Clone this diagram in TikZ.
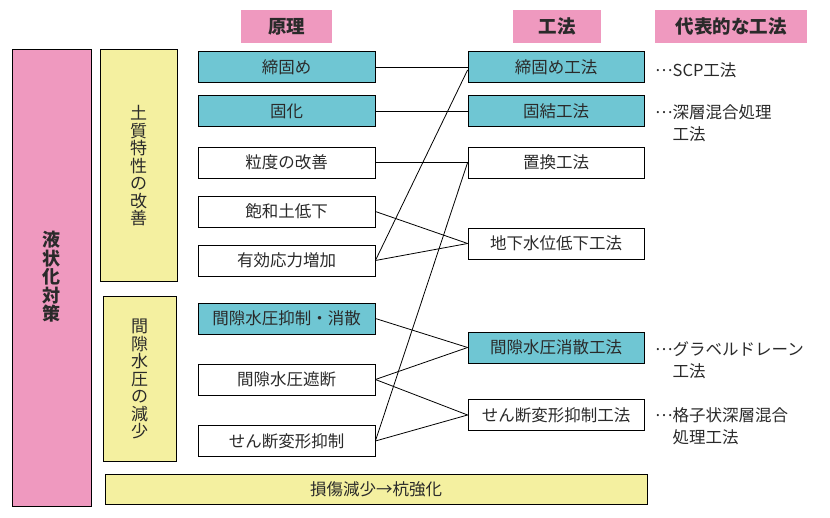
\documentclass[tikz,border=0pt]{standalone}
\usepackage{fontspec}
\setmainfont{Noto Sans CJK JP}
\definecolor{pinkc}{HTML}{EF99BF}
\definecolor{cyanc}{HTML}{6FC6D3}
\definecolor{yellc}{HTML}{F4F0A0}
\definecolor{txt}{HTML}{2A2A2A}
\newcommand\middots{\raisebox{0.3em}{…}}
\newlength\dotw
\begin{document}
\settowidth\dotw{\fontsize{16.5}{22}\selectfont …}
\begin{tikzpicture}[x=1pt,y=-1pt,
  box/.style={draw=black,line width=0.8pt,minimum width=177pt,minimum height=31pt,inner sep=0pt,text=txt,font=\fontsize{16.5}{18}\selectfont},
  cbox/.style={box,fill=cyanc},
  wbox/.style={box,fill=white},
  head/.style={fill=pinkc,inner sep=0pt,minimum height=33pt,text=txt,font=\fontsize{18.5}{20}\selectfont\bfseries},
  vtext/.style={align=center,text=txt,inner sep=0pt},
  note/.style={anchor=west,align=left,inner sep=0pt,text=txt,font=\fontsize{16.5}{22}\selectfont},
  link/.style={line width=0.8pt,black}]
\useasboundingbox (0,0) rectangle (830,518);
% headers
\node[head,minimum width=91pt] (h1) at (286.5,27) {原理};
\node[head,minimum width=88pt] (h2) at (557,26.5) {工法};
\node[head,minimum width=152pt] (h3) at (731,26.5) {代表的な工法};
% big left boxes
\draw[fill=pinkc,line width=0.8pt] (12,49) rectangle (91,506);
\node[vtext,font=\fontsize{18}{18.5}\selectfont\bfseries] (title) at (51.5,277) {液\\状\\化\\対\\策};
\draw[fill=yellc,line width=0.8pt] (100,49) rectangle (177,281);
\node[vtext,font=\fontsize{17}{17.5}\selectfont] (g1) at (138.5,166) {土\\質\\特\\性\\の\\改\\善};
\draw[fill=yellc,line width=0.8pt] (103,296) rectangle (176,461);
\node[vtext,font=\fontsize{17}{17.5}\selectfont] (g2) at (139.5,379) {間\\隙\\水\\圧\\の\\減\\少};
\node[draw=black,line width=0.8pt,fill=yellc,minimum width=542pt,minimum height=30pt,inner sep=0pt,text=txt,font=\fontsize{16.5}{18}\selectfont] (bot) at (376,489) {損傷減少→杭強化};
% principle boxes
\node[cbox] (p1) at (286.5,67) {締固め};
\node[cbox] (p2) at (286.5,111) {固化};
\node[wbox] (p3) at (286.5,162.5) {粒度の改善};
\node[wbox] (p4) at (286.5,211.5) {飽和土低下};
\node[wbox] (p5) at (286.5,260.5) {有効応力増加};
\node[cbox] (p6) at (286.5,318.5) {間隙水圧抑制・消散};
\node[wbox] (p7) at (286.5,379.5) {間隙水圧遮断};
\node[wbox] (p8) at (286.5,441) {せん断変形抑制};
% method boxes
\node[cbox,minimum width=176pt] (m1) at (556,67) {締固め工法};
\node[cbox,minimum width=176pt] (m2) at (556,111) {固結工法};
\node[wbox,minimum width=176pt] (m3) at (556,162.5) {置換工法};
\node[wbox,minimum width=176pt] (m4) at (556,243.5) {地下水位低下工法};
\node[cbox,minimum width=176pt] (m5) at (556,347.5) {間隙水圧消散工法};
\node[wbox,minimum width=176pt] (m6) at (556,415) {せん断変形抑制工法};
% notes
\node[note] (n1) at (655,70) {\middots SCP工法};
\node[note] (n2) at (655,123) {\middots 深層混合処理\\\hspace*{\dotw}工法};
\node[note] (n3) at (655,360) {\middots グラベルドレーン\\\hspace*{\dotw}工法};
\node[note] (n4) at (655,426) {\middots 格子状深層混合\\\hspace*{\dotw}処理工法};
% links
\draw[link] (p1.east) -- (m1.west);
\draw[link] (p2.east) -- (m2.west);
\draw[link] (p3.east) -- (m3.west);
\draw[link] (p4.east) -- (m4.west);
\draw[link] (p5.east) -- (m4.west);
\draw[link] (p5.east) -- ([yshift=-3pt]m1.west);
\draw[link] (p6.east) -- (m5.west);
\draw[link] (p7.east) -- (m5.west);
\draw[link] (p7.east) -- (m6.west);
\draw[link] (p8.east) -- (m6.west);
\draw[link] (p8.east) -- (m3.west);
\end{tikzpicture}
\end{document}
